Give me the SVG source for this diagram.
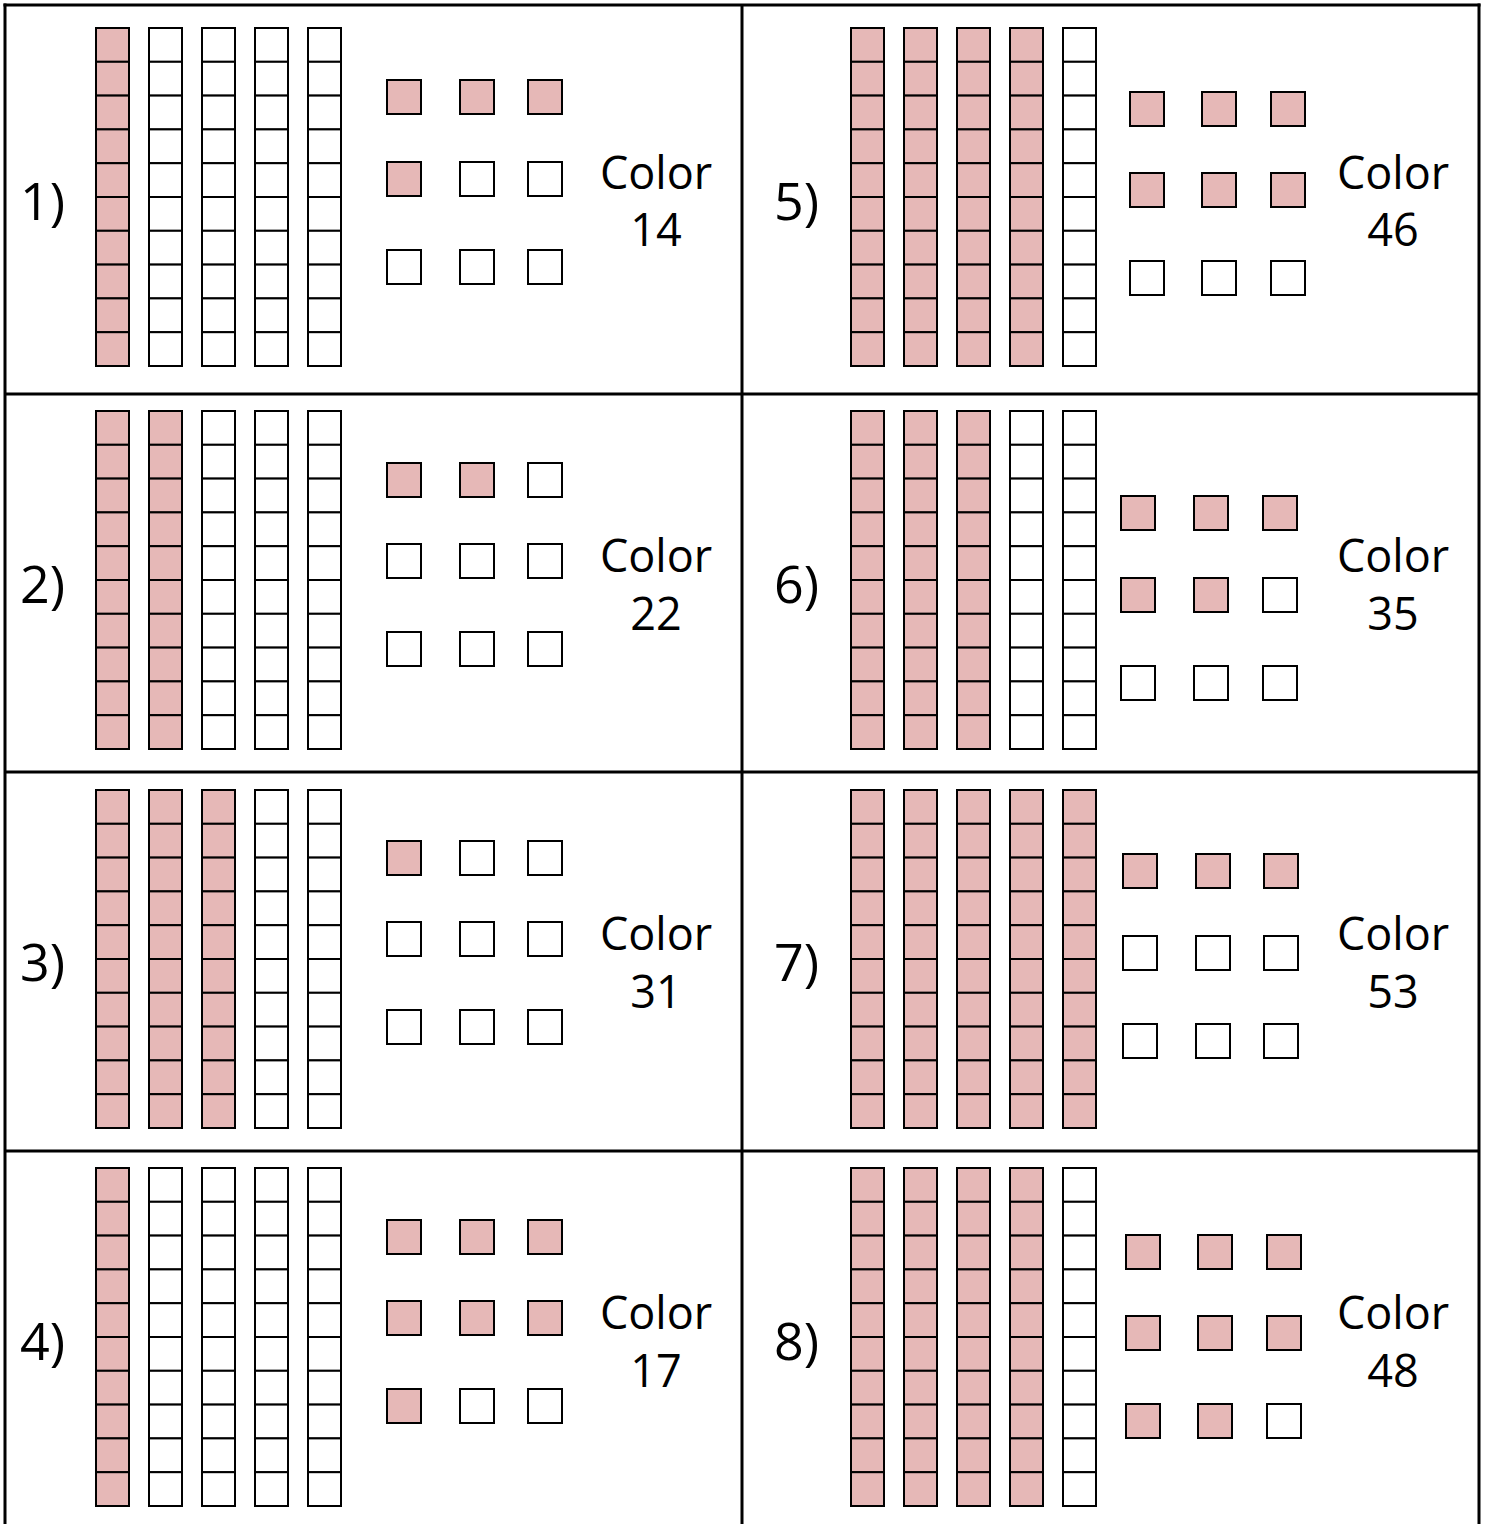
<svg xmlns="http://www.w3.org/2000/svg" xmlns:xlink="http://www.w3.org/1999/xlink" width="1488" height="1524" viewBox="0 0 1488 1524">
<style>
.p{fill:#E6B8B7;stroke:#000;stroke-width:2}
.w{fill:#fff;stroke:#000;stroke-width:2}
.grid{stroke:#000;stroke-width:3;fill:none}
.lbl{font-family:"Open Sans","Noto Sans",sans-serif;font-size:52px;fill:#000}
.col{font-family:"Open Sans","Noto Sans",sans-serif;font-size:45px;fill:#000;text-anchor:middle}
</style>
<defs>
<g id="rodP">
<rect class="p" x="1" y="1" width="33" height="33.8"/><rect class="p" x="1" y="34.8" width="33" height="33.8"/><rect class="p" x="1" y="68.6" width="33" height="33.8"/><rect class="p" x="1" y="102.4" width="33" height="33.8"/><rect class="p" x="1" y="136.2" width="33" height="33.8"/><rect class="p" x="1" y="170" width="33" height="33.8"/><rect class="p" x="1" y="203.8" width="33" height="33.8"/><rect class="p" x="1" y="237.6" width="33" height="33.8"/><rect class="p" x="1" y="271.4" width="33" height="33.8"/><rect class="p" x="1" y="305.2" width="33" height="33.8"/>
</g>
<g id="rodW">
<rect class="w" x="1" y="1" width="33" height="33.8"/><rect class="w" x="1" y="34.8" width="33" height="33.8"/><rect class="w" x="1" y="68.6" width="33" height="33.8"/><rect class="w" x="1" y="102.4" width="33" height="33.8"/><rect class="w" x="1" y="136.2" width="33" height="33.8"/><rect class="w" x="1" y="170" width="33" height="33.8"/><rect class="w" x="1" y="203.8" width="33" height="33.8"/><rect class="w" x="1" y="237.6" width="33" height="33.8"/><rect class="w" x="1" y="271.4" width="33" height="33.8"/><rect class="w" x="1" y="305.2" width="33" height="33.8"/>
</g>
<rect id="sqP" class="p" x="1" y="1" width="34" height="34"/>
<rect id="sqW" class="w" x="1" y="1" width="34" height="34"/>
</defs>
<rect x="0" y="0" width="1488" height="1524" fill="#fff"/>
<g id="table-grid" class="grid">
<line x1="3.5" y1="5" x2="1480.5" y2="5"/>
<line x1="5" y1="3.5" x2="5" y2="1524"/>
<line x1="1479" y1="3.5" x2="1479" y2="1524"/>
<line x1="742" y1="5" x2="742" y2="1524"/>
<line x1="5" y1="394" x2="1479" y2="394"/>
<line x1="5" y1="772" x2="1479" y2="772"/>
<line x1="5" y1="1151" x2="1479" y2="1151"/>
</g>
<g id="connectors"/>

<g id="cell1">
<text class="lbl" x="20" y="220">1)</text>
<use href="#rodP" x="95" y="27"/><use href="#rodW" x="148" y="27"/><use href="#rodW" x="201" y="27"/><use href="#rodW" x="254" y="27"/><use href="#rodW" x="307" y="27"/>
<use href="#sqP" x="386" y="79"/><use href="#sqP" x="459" y="79"/><use href="#sqP" x="527" y="79"/>
<use href="#sqP" x="386" y="161"/><use href="#sqW" x="459" y="161"/><use href="#sqW" x="527" y="161"/>
<use href="#sqW" x="386" y="249"/><use href="#sqW" x="459" y="249"/><use href="#sqW" x="527" y="249"/>
<text class="col" x="656" y="189">Color</text><text class="col" x="656" y="246">14</text>
</g>

<g id="cell2">
<text class="lbl" x="20" y="603">2)</text>
<use href="#rodP" x="95" y="410"/><use href="#rodP" x="148" y="410"/><use href="#rodW" x="201" y="410"/><use href="#rodW" x="254" y="410"/><use href="#rodW" x="307" y="410"/>
<use href="#sqP" x="386" y="462"/><use href="#sqP" x="459" y="462"/><use href="#sqW" x="527" y="462"/>
<use href="#sqW" x="386" y="543"/><use href="#sqW" x="459" y="543"/><use href="#sqW" x="527" y="543"/>
<use href="#sqW" x="386" y="631"/><use href="#sqW" x="459" y="631"/><use href="#sqW" x="527" y="631"/>
<text class="col" x="656" y="572">Color</text><text class="col" x="656" y="630">22</text>
</g>

<g id="cell3">
<text class="lbl" x="20" y="981">3)</text>
<use href="#rodP" x="95" y="789"/><use href="#rodP" x="148" y="789"/><use href="#rodP" x="201" y="789"/><use href="#rodW" x="254" y="789"/><use href="#rodW" x="307" y="789"/>
<use href="#sqP" x="386" y="840"/><use href="#sqW" x="459" y="840"/><use href="#sqW" x="527" y="840"/>
<use href="#sqW" x="386" y="921"/><use href="#sqW" x="459" y="921"/><use href="#sqW" x="527" y="921"/>
<use href="#sqW" x="386" y="1009"/><use href="#sqW" x="459" y="1009"/><use href="#sqW" x="527" y="1009"/>
<text class="col" x="656" y="950">Color</text><text class="col" x="656" y="1008">31</text>
</g>

<g id="cell4">
<text class="lbl" x="20" y="1360">4)</text>
<use href="#rodP" x="95" y="1167"/><use href="#rodW" x="148" y="1167"/><use href="#rodW" x="201" y="1167"/><use href="#rodW" x="254" y="1167"/><use href="#rodW" x="307" y="1167"/>
<use href="#sqP" x="386" y="1219"/><use href="#sqP" x="459" y="1219"/><use href="#sqP" x="527" y="1219"/>
<use href="#sqP" x="386" y="1300"/><use href="#sqP" x="459" y="1300"/><use href="#sqP" x="527" y="1300"/>
<use href="#sqP" x="386" y="1388"/><use href="#sqW" x="459" y="1388"/><use href="#sqW" x="527" y="1388"/>
<text class="col" x="656" y="1329">Color</text><text class="col" x="656" y="1387">17</text>
</g>

<g id="cell5">
<text class="lbl" x="774" y="220">5)</text>
<use href="#rodP" x="850" y="27"/><use href="#rodP" x="903" y="27"/><use href="#rodP" x="956" y="27"/><use href="#rodP" x="1009" y="27"/><use href="#rodW" x="1062" y="27"/>
<use href="#sqP" x="1129" y="91"/><use href="#sqP" x="1201" y="91"/><use href="#sqP" x="1270" y="91"/>
<use href="#sqP" x="1129" y="172"/><use href="#sqP" x="1201" y="172"/><use href="#sqP" x="1270" y="172"/>
<use href="#sqW" x="1129" y="260"/><use href="#sqW" x="1201" y="260"/><use href="#sqW" x="1270" y="260"/>
<text class="col" x="1393" y="189">Color</text><text class="col" x="1393" y="246">46</text>
</g>

<g id="cell6">
<text class="lbl" x="774" y="603">6)</text>
<use href="#rodP" x="850" y="410"/><use href="#rodP" x="903" y="410"/><use href="#rodP" x="956" y="410"/><use href="#rodW" x="1009" y="410"/><use href="#rodW" x="1062" y="410"/>
<use href="#sqP" x="1120" y="495"/><use href="#sqP" x="1193" y="495"/><use href="#sqP" x="1262" y="495"/>
<use href="#sqP" x="1120" y="577"/><use href="#sqP" x="1193" y="577"/><use href="#sqW" x="1262" y="577"/>
<use href="#sqW" x="1120" y="665"/><use href="#sqW" x="1193" y="665"/><use href="#sqW" x="1262" y="665"/>
<text class="col" x="1393" y="572">Color</text><text class="col" x="1393" y="630">35</text>
</g>

<g id="cell7">
<text class="lbl" x="774" y="981">7)</text>
<use href="#rodP" x="850" y="789"/><use href="#rodP" x="903" y="789"/><use href="#rodP" x="956" y="789"/><use href="#rodP" x="1009" y="789"/><use href="#rodP" x="1062" y="789"/>
<use href="#sqP" x="1122" y="853"/><use href="#sqP" x="1195" y="853"/><use href="#sqP" x="1263" y="853"/>
<use href="#sqW" x="1122" y="935"/><use href="#sqW" x="1195" y="935"/><use href="#sqW" x="1263" y="935"/>
<use href="#sqW" x="1122" y="1023"/><use href="#sqW" x="1195" y="1023"/><use href="#sqW" x="1263" y="1023"/>
<text class="col" x="1393" y="950">Color</text><text class="col" x="1393" y="1008">53</text>
</g>

<g id="cell8">
<text class="lbl" x="774" y="1360">8)</text>
<use href="#rodP" x="850" y="1167"/><use href="#rodP" x="903" y="1167"/><use href="#rodP" x="956" y="1167"/><use href="#rodP" x="1009" y="1167"/><use href="#rodW" x="1062" y="1167"/>
<use href="#sqP" x="1125" y="1234"/><use href="#sqP" x="1197" y="1234"/><use href="#sqP" x="1266" y="1234"/>
<use href="#sqP" x="1125" y="1315"/><use href="#sqP" x="1197" y="1315"/><use href="#sqP" x="1266" y="1315"/>
<use href="#sqP" x="1125" y="1403"/><use href="#sqP" x="1197" y="1403"/><use href="#sqW" x="1266" y="1403"/>
<text class="col" x="1393" y="1329">Color</text><text class="col" x="1393" y="1387">48</text>
</g>
</svg>
